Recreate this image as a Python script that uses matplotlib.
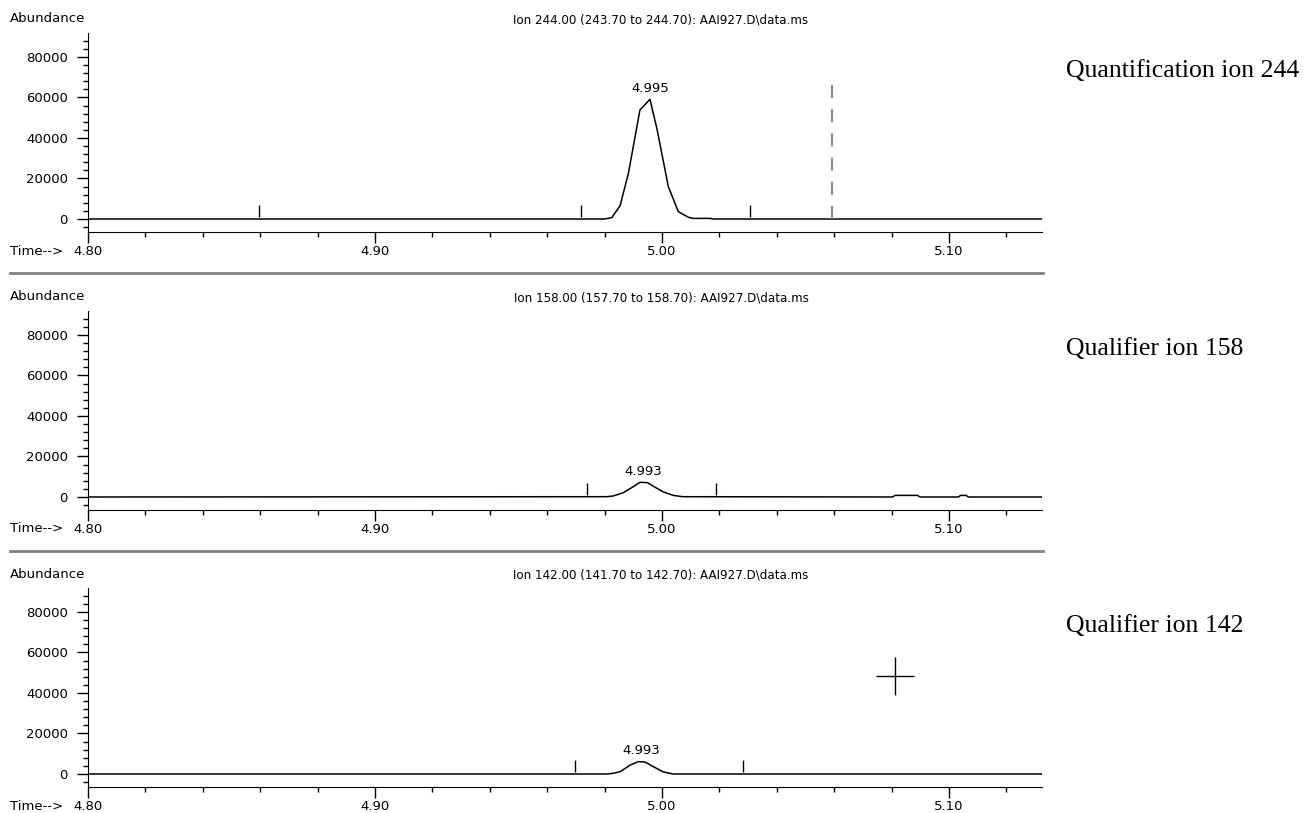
import matplotlib
matplotlib.use('Agg')
import matplotlib.pyplot as plt
from matplotlib.ticker import MultipleLocator, FixedLocator, FormatStrFormatter
from matplotlib.lines import Line2D

# Image size in pixels (figure is 100 dpi)
W, H = 1307, 813

# Ion 244 trace (quantification ion), time in min, abundance in counts
ion244_time = [4.800, 4.9799, 4.9825, 4.9854, 4.9883, 4.9923, 4.9958, 4.9982,
               5.0022, 5.0057, 5.0092, 5.0109, 5.0170, 5.0175, 5.1324]
ion244_abund = [0, 0, 650, 6600, 22600, 53800, 59100, 44800,
                16000, 3600, 840, 300, 300, 0, 0]
ion244_marks = [4.8596, 4.9718, 5.0307]

# Ion 158 trace (qualifier)
ion158_time = [4.800, 4.9807, 4.9830, 4.9865, 4.9900, 4.9923, 4.9949, 4.9976,
               5.0005, 5.0039, 5.0072, 5.0803, 5.0812, 5.0890, 5.0899,
               5.1033, 5.1040, 5.1060, 5.1067, 5.1324]
ion158_abund = [0, 150, 500, 2100, 5100, 7250, 7100, 4800,
                2500, 800, 150, 0, 800, 800, 0,
                0, 800, 800, 0, 0]
ion158_marks = [4.9737, 5.0188]

# Ion 142 trace (qualifier)
ion142_time = [4.800, 4.9807, 4.9830, 4.9854, 4.9889, 4.9917, 4.9941, 4.9970,
               5.0005, 5.0039, 5.1324]
ion142_abund = [0, 0, 330, 1150, 4400, 6100, 5900, 3600, 1000, 0, 0]
ion142_marks = [4.9696, 5.0281]

# Peak labels (retention time, apex abundance)
apex_times = [4.9958, 4.9936, 4.9929]
apex_abunds = [59100, 7250, 6100]
apex_labels = ["4.995", "4.993", "4.993"]

# Dashed line in the first panel, and the cursor in the last one
dash_time = 5.0592
dash_top = 66000
cursor_time = 5.0812
cursor_abund = 48400

titles = ["Ion 244.00 (243.70 to 244.70): AAI927.D\\data.ms",
          "Ion 158.00 (157.70 to 158.70): AAI927.D\\data.ms",
          "Ion 142.00 (141.70 to 142.70): AAI927.D\\data.ms"]
side_labels = ["Quantification ion 244", "Qualifier ion 158", "Qualifier ion 142"]

x_major = [4.80, 4.90, 5.00, 5.10]
y_major = [0, 20000, 40000, 60000, 80000]

plt.rcParams['font.family'] = 'DejaVu Sans'
fig = plt.figure(figsize=(W / 100, H / 100), dpi=100)


def fy(y):
    # pixel row -> figure fraction
    return 1 - y / H


# Draws one chromatogram panel, top = pixel row of the y axis top
def draw_panel(top, time, abund, marks, i):
    ax = fig.add_axes([88 / W, fy(top + 199), (1042 - 88) / W, 199 / H])
    ax.plot(time, abund, color='black', lw=1.1)
    ax.vlines(marks, 1000, 6800, color='black', lw=1)
    ax.annotate(apex_labels[i], (apex_times[i], apex_abunds[i]), xytext=(0, 3),
                textcoords='offset points', ha='center', va='bottom', fontsize=9.5)

    ax.set_xlim(4.80, 5.1324)
    ax.set_ylim(-6420, 91850)
    ax.spines['top'].set_visible(False)
    ax.spines['right'].set_visible(False)

    ax.xaxis.set_major_locator(FixedLocator(x_major))
    ax.xaxis.set_minor_locator(MultipleLocator(0.02))
    ax.xaxis.set_major_formatter(FormatStrFormatter('%.2f'))
    ax.yaxis.set_major_locator(FixedLocator(y_major))
    ax.yaxis.set_minor_locator(MultipleLocator(4000))

    ax.tick_params(which='major', direction='out', length=8, width=1, labelsize=9.5)
    ax.tick_params(which='minor', direction='out', length=3.6, width=1)
    ax.tick_params(axis='x', pad=1.5)
    ax.tick_params(axis='y', pad=6.5)

    # texts around the panel
    fig.text(10 / W, fy(top - 14), "Abundance", ha='left', va='center', fontsize=9.5)
    fig.text(10 / W, fy(top + 218), "Time-->", ha='left', va='center', fontsize=9.5)
    fig.text(661 / W, fy(top - 13), titles[i], ha='center', va='center',
             family=['Liberation Sans Narrow', 'DejaVu Sans'], fontsize=8.6)
    fig.text(1066 / W, fy(top + 38), side_labels[i], ha='left', va='center',
             family='Liberation Serif', fontsize=18.5)
    return ax


ax1 = draw_panel(33, ion244_time, ion244_abund, ion244_marks, 0)
ax2 = draw_panel(311, ion158_time, ion158_abund, ion158_marks, 1)
ax3 = draw_panel(588, ion142_time, ion142_abund, ion142_marks, 2)

# dashed gray line in the top panel (drawn top-down so it starts with a dash)
ax1.plot([dash_time, dash_time], [dash_top, 0], color='#888888', lw=1.5,
         dashes=(6.3, 5.3))

# cursor cross in the bottom panel
ax3.plot([cursor_time], [cursor_abund], marker='+', markersize=27,
         markeredgewidth=1, color='black')

# gray separators between panels
for row in [273, 551]:
    fig.add_artist(Line2D([10 / W, 1043 / W], [fy(row), fy(row)],
                          color='#808080', lw=2))

fig.savefig('out.png', dpi=100)
